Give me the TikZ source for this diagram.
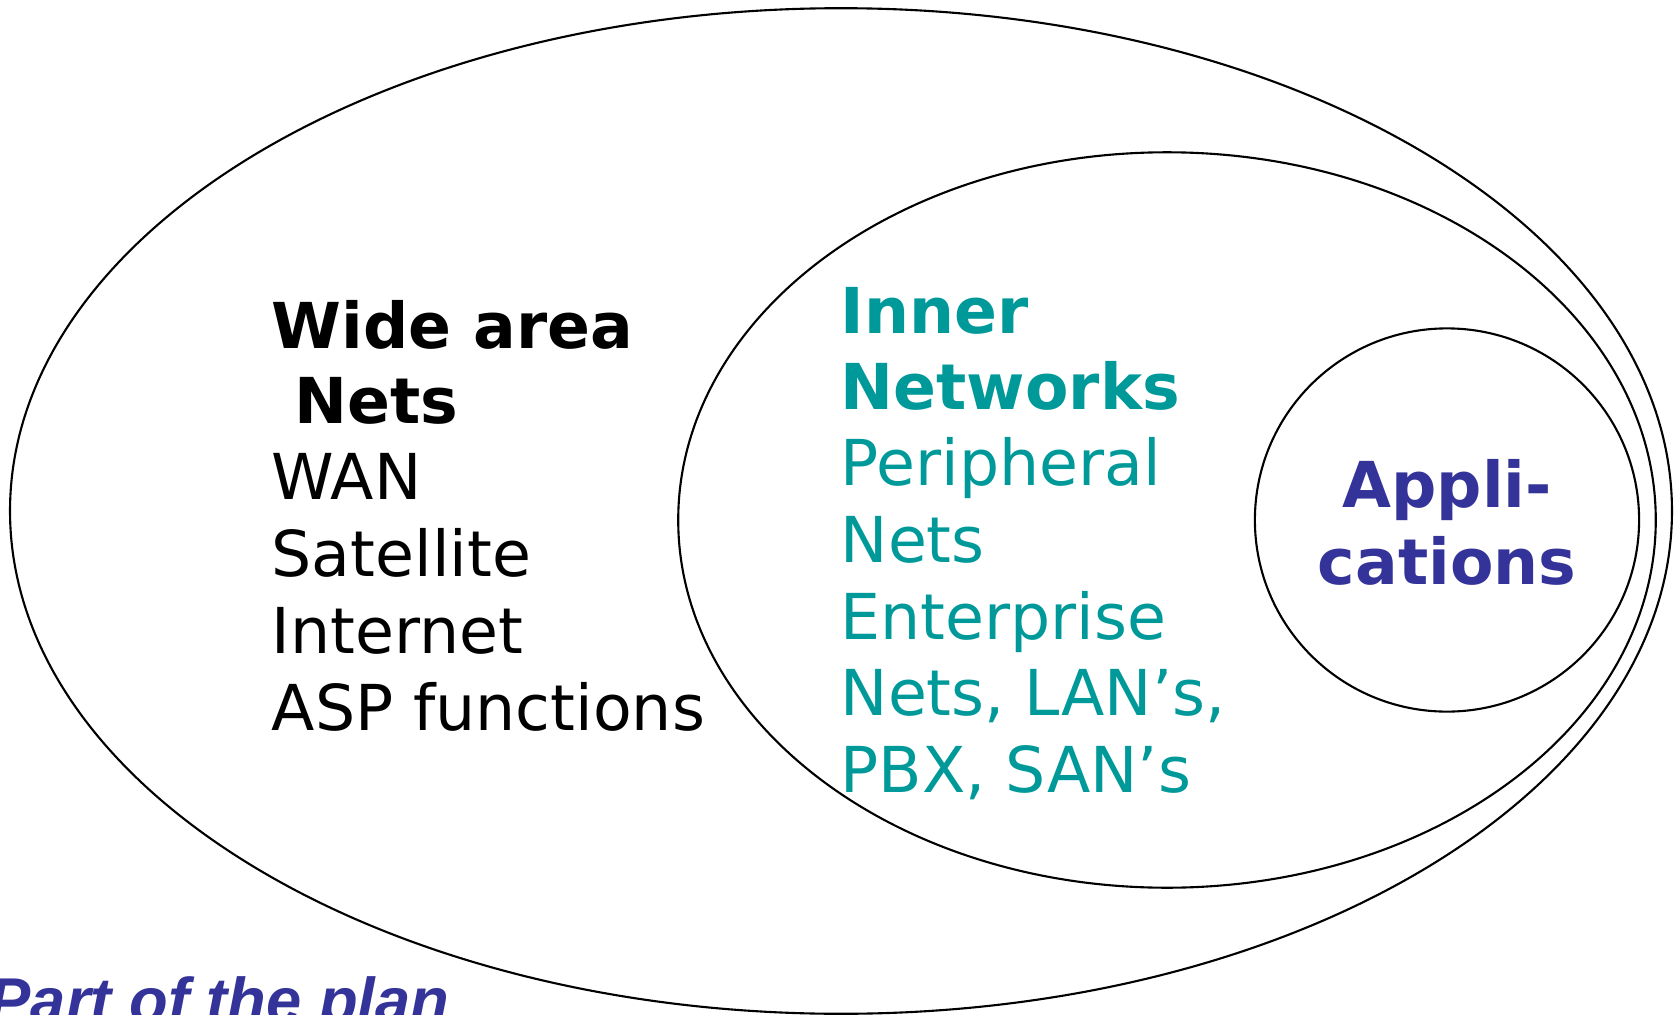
\documentclass[tikz,border=0pt]{standalone}
\usepackage{fontspec}
\setmainfont{DejaVu Sans}
\newfontfamily\plainsans{Liberation Sans}
\usetikzlibrary{shapes.geometric}
\definecolor{innerteal}{HTML}{009999}
\definecolor{appblue}{HTML}{333399}
\tikzset{
  ring/.style={draw=black, line width=0.6pt, inner sep=0pt, ellipse},
  line/.style={anchor=base west, inner sep=0pt, font=\fontsize{18}{22}\selectfont},
  boldline/.style={line, font=\fontsize{18}{22}\selectfont\bfseries},
  appline/.style={anchor=base, inner sep=0pt, text=appblue, font=\fontsize{18}{22}\selectfont\bfseries}
}
\begin{document}
\begin{tikzpicture}[x=0.01cm, y=-0.01cm]
\useasboundingbox (0,0) rectangle (1678,1015);
% nested areas
\node[ring, minimum width=16.61cm, minimum height=10.05cm] (wide) at (841,511) {};
\node[ring, minimum width=9.77cm, minimum height=7.35cm] (inner) at (1167,520) {};
\node[ring, minimum width=3.84cm, minimum height=3.83cm] (apps) at (1447,520) {};
% wide area nets
\node[boldline] (w1) at (271,348) {Wide area};
\node[boldline] (w2) at (294,423) {Nets};
\node[line] (w3) at (271,499) {WAN};
\node[line] (w4) at (271,576) {Satellite};
\node[line] (w5) at (271,653) {Internet};
\node[line] (w6) at (271,730) {ASP functions};
% inner networks
\node[boldline, text=innerteal] (i1) at (840,333) {Inner};
\node[boldline, text=innerteal] (i2) at (840,409) {Networks};
\node[line, text=innerteal] (i3) at (840,485) {Peripheral};
\node[line, text=innerteal] (i4) at (840,562) {Nets};
\node[line, text=innerteal] (i5) at (840,639) {Enterprise};
\node[line, text=innerteal] (i6) at (840,715) {Nets, LAN’s,};
\node[line, text=innerteal] (i7) at (840,792) {PBX, SAN’s};
% applications
\node[appline] (a1) at (1447,507) {Appli-};
\node[appline] (a2) at (1447,584) {cations};
% caption
\node[anchor=base west, inner sep=0pt, text=appblue, font=\plainsans\fontsize{18}{22}\selectfont\bfseries\itshape] (cap) at (-12,1022) {Part of the plan};
\end{tikzpicture}
\end{document}
